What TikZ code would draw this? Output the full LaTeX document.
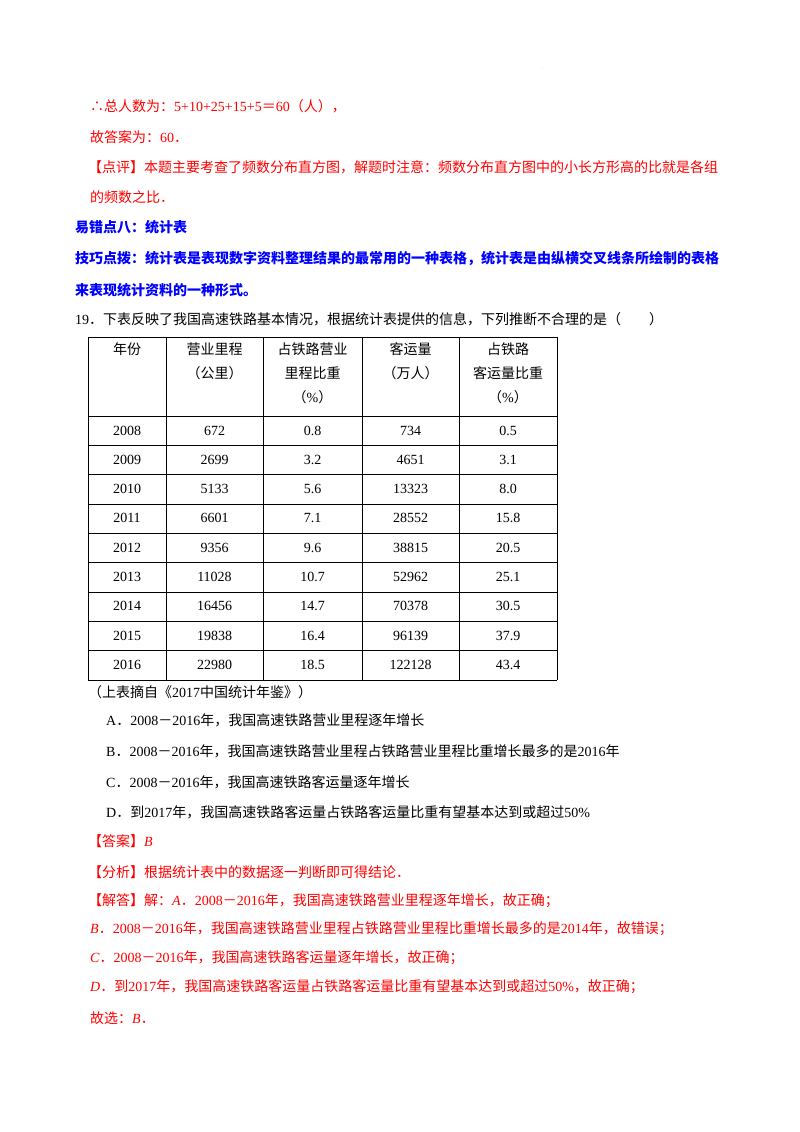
\documentclass[tikz,border=0pt]{standalone}
\usepackage{fontspec}
\setmainfont{Liberation Serif}
\newfontfamily\cjk{Noto Sans CJK SC}
\newXeTeXintercharclass\cjkclass
\newcount\cc
\cc="4E00 \loop \XeTeXcharclass\cc=\cjkclass \advance\cc1 \ifnum\cc<"A000 \repeat
\cc="3000 \loop \XeTeXcharclass\cc=\cjkclass \advance\cc1 \ifnum\cc<"3040 \repeat
\cc="FF00 \loop \XeTeXcharclass\cc=\cjkclass \advance\cc1 \ifnum\cc<"FFF0 \repeat
\XeTeXcharclass"2234=\cjkclass
\XeTeXinterchartoks 0 \cjkclass={\cjk}
\XeTeXinterchartoks 4095 \cjkclass={\cjk}
\XeTeXinterchartoks \cjkclass 0={\rmfamily}
\XeTeXinterchartoks \cjkclass 4095={\rmfamily}
\def\cjkon{\XeTeXinterchartokenstate=1\relax}
\definecolor{ared}{HTML}{FF0000}
\definecolor{ablue}{HTML}{0000FF}
\begin{document}
\begin{tikzpicture}[x=1pt,y=-1pt,
  every node/.style={inner sep=0pt,font=\fontsize{14}{16}\selectfont\cjkon},
  ln/.style={anchor=west},
  rd/.style={ln,text=ared},
  bl/.style={ln,text=ablue,font=\fontsize{14}{16}\selectfont\bfseries\cjkon},
  cell/.style={anchor=center}]
\useasboundingbox (0,0) rectangle (800,1132);
\node[text=gray!60,font=\tiny] (dot) at (543,68) {.};
\node[rd] (l1) at (90,106) {∴总人数为：5+10+25+15+5＝60（人），};
\node[rd] (l2) at (90,137) {故答案为：60．};
\node[rd] (l3) at (88,167) {【点评】本题主要考查了频数分布直方图，解题时注意：频数分布直方图中的小长方形高的比就是各组};
\node[rd] (l4) at (90,197) {的频数之比．};
\node[bl] (l5) at (75,227) {易错点八：统计表};
\node[bl] (l6) at (75,258) {技巧点拨：统计表是表现数字资料整理结果的最常用的一种表格，统计表是由纵横交叉线条所绘制的表格};
\node[bl] (l7) at (75,290) {来表现统计资料的一种形式。};
\node[ln] (q) at (75,319) {19．下表反映了我国高速铁路基本情况，根据统计表提供的信息，下列推断不合理的是（　　）};
% table
\def\ys{337,416,445,474,504,533,562,592,621,650,680}
\foreach \y in \ys {\draw[line width=0.9pt] (88,\y) -- (557,\y);}
\foreach \x in {88,166,263,362,459,557} {\draw[line width=0.9pt] (\x,337) -- (\x,680);}
\node[cell] (h1) at (127,349) {年份};
\node[cell] (h2a) at (214.5,349) {营业里程};
\node[cell] (h2b) at (214.5,373) {（公里）};
\node[cell] (h3a) at (312.5,349) {占铁路营业};
\node[cell] (h3b) at (312.5,373) {里程比重};
\node[cell] (h3c) at (312.5,397) {（\%）};
\node[cell] (h4a) at (410.5,349) {客运量};
\node[cell] (h4b) at (410.5,373) {（万人）};
\node[cell] (h5a) at (508,349) {占铁路};
\node[cell] (h5b) at (508,373) {客运量比重};
\node[cell] (h5c) at (508,397) {（\%）};
\foreach \yr/\a/\b/\c/\d [count=\i from 0] in {2008/672/0.8/734/0.5,2009/2699/3.2/4651/3.1,2010/5133/5.6/13323/8.0,2011/6601/7.1/28552/15.8,2012/9356/9.6/38815/20.5,2013/11028/10.7/52962/25.1,2014/16456/14.7/70378/30.5,2015/19838/16.4/96139/37.9,2016/22980/18.5/122128/43.4}{
  \pgfmathsetmacro\yy{430.5+29.3*\i}
  \node[cell] (r\i a) at (127,\yy) {\yr};
  \node[cell] (r\i b) at (214.5,\yy) {\a};
  \node[cell] (r\i c) at (312.5,\yy) {\b};
  \node[cell] (r\i d) at (410.5,\yy) {\c};
  \node[cell] (r\i e) at (508,\yy) {\d};
}
\node[ln] (src) at (88,692) {（上表摘自《2017中国统计年鉴》）};
\node[ln] (oa) at (106,720) {A．2008－2016年，我国高速铁路营业里程逐年增长};
\node[ln] (ob) at (106,751) {B．2008－2016年，我国高速铁路营业里程占铁路营业里程比重增长最多的是2016年};
\node[ln] (oc) at (106,782) {C．2008－2016年，我国高速铁路客运量逐年增长};
\node[ln] (od) at (106,812) {D．到2017年，我国高速铁路客运量占铁路客运量比重有望基本达到或超过50\%};
\node[rd] (a1) at (88,841) {【答案】\textit{B}};
\node[rd] (a2) at (88,872) {【分析】根据统计表中的数据逐一判断即可得结论．};
\node[rd] (a3) at (88,901) {【解答】解：\textit{A}．2008－2016年，我国高速铁路营业里程逐年增长，故正确；};
\node[rd] (a4) at (90,929) {\textit{B}．2008－2016年，我国高速铁路营业里程占铁路营业里程比重增长最多的是2014年，故错误；};
\node[rd] (a5) at (90,958) {\textit{C}．2008－2016年，我国高速铁路客运量逐年增长，故正确；};
\node[rd] (a6) at (90,987) {\textit{D}．到2017年，我国高速铁路客运量占铁路客运量比重有望基本达到或超过50\%，故正确；};
\node[rd] (a7) at (90,1018) {故选：\textit{B}．};
\end{tikzpicture}
\end{document}
